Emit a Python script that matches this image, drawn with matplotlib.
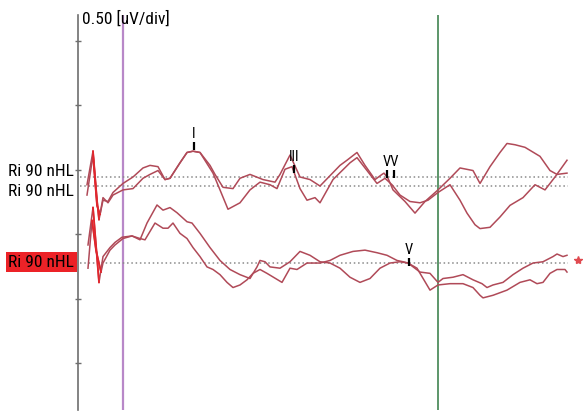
import numpy as np
import matplotlib.pyplot as plt
from matplotlib import font_manager

# narrow face for the labels, first one that is installed
installed = {f.name for f in font_manager.fontManager.ttflist}
narrow = 'Liberation Sans'
for cand in ['Roboto Condensed', 'Liberation Sans Narrow', 'DejaVu Sans Condensed', 'Open Sans Condensed']:
    if cand in installed:
        narrow = cand
        break
plt.rcParams['font.family'] = [narrow, 'DejaVu Sans']
label_size = 12.5 if narrow != 'Liberation Sans' else 10

# ABR recordings, time in ms, amplitude in uV relative to each baseline
t_up1 = [0.00, 0.12, 0.20, 0.24, 0.32, 0.42, 0.52, 0.72, 0.92, 1.12, 1.26, 1.42, 1.56, 1.66, 1.86,
         2.00, 2.12, 2.26, 2.46, 2.56, 2.72, 2.92, 3.06, 3.26, 3.52, 3.76, 3.86, 4.06, 4.26, 4.46,
         4.66, 4.86, 5.06, 5.20, 5.40, 5.56, 5.76, 5.90, 5.94, 6.02, 6.12, 6.36, 6.56, 6.76, 7.02,
         7.26, 7.46, 7.72, 7.86, 8.06, 8.26, 8.40, 8.56, 8.76, 9.06, 9.26, 9.40, 9.60]
a_up1 = [-0.06, 0.20, -0.18, -0.33, -0.18, -0.19, -0.12, -0.05, 0.00, 0.07, 0.09, 0.08, -0.02, -0.01, 0.11,
         0.19, 0.20, 0.19, 0.09, 0.02, -0.08, -0.09, -0.01, 0.02, -0.02, -0.04, 0.02, 0.17, 0.00, -0.02,
         -0.07, 0.01, 0.09, 0.13, 0.19, 0.09, -0.02, 0.02, 0.03, -0.01, -0.10, -0.19, -0.28, -0.19, -0.10,
         -0.01, 0.07, 0.05, -0.05, 0.08, 0.19, 0.26, 0.25, 0.23, 0.16, 0.05, 0.02, 0.03]

t_up2 = [0.00, 0.12, 0.20, 0.26, 0.32, 0.42, 0.52, 0.72, 0.92, 1.12, 1.26, 1.42, 1.56, 1.66, 1.86,
         2.00, 2.12, 2.26, 2.52, 2.66, 2.82, 3.06, 3.26, 3.46, 3.66, 3.80, 3.96, 4.10, 4.26, 4.40,
         4.56, 4.66, 4.92, 5.26, 5.40, 5.66, 5.80, 5.96, 6.10, 6.26, 6.46, 6.66, 6.82, 7.02, 7.26,
         7.46, 7.60, 7.76, 7.86, 8.06, 8.26, 8.46, 8.72, 8.96, 9.16, 9.36, 9.60]
a_up2 = [-0.07, 0.24, -0.15, -0.22, -0.09, -0.13, -0.07, -0.03, -0.02, 0.06, 0.09, 0.12, 0.05, 0.06, 0.18,
         0.26, 0.27, 0.26, 0.10, -0.03, -0.18, -0.13, -0.03, 0.03, 0.01, -0.02, 0.13, 0.15, -0.02, -0.11,
         -0.09, -0.13, 0.05, 0.18, 0.22, 0.09, 0.02, 0.06, 0.01, -0.07, -0.12, -0.13, -0.11, -0.05, 0.01,
         -0.11, -0.21, -0.30, -0.33, -0.32, -0.24, -0.15, -0.09, 0.01, -0.03, 0.07, 0.20]

t_lo1 = [0.02, 0.12, 0.18, 0.24, 0.32, 0.46, 0.56, 0.70, 0.90, 1.06, 1.20, 1.40, 1.52, 1.66, 1.80,
         2.00, 2.10, 2.26, 2.46, 2.66, 2.86, 3.06, 3.26, 3.40, 3.46, 3.56, 3.66, 3.86, 4.06, 4.26,
         4.46, 4.66, 4.86, 5.06, 5.26, 5.46, 5.66, 5.86, 6.06, 6.26, 6.42, 6.60, 6.86, 7.02, 7.26,
         7.52, 7.72, 7.86, 7.92, 8.12, 8.40, 8.66, 8.86, 9.00, 9.12, 9.26, 9.40, 9.56, 9.60]
a_lo1 = [0.14, 0.43, 0.14, -0.15, 0.05, 0.12, 0.16, 0.20, 0.21, 0.18, 0.31, 0.45, 0.41, 0.43, 0.39,
         0.32, 0.31, 0.23, 0.12, 0.02, -0.05, -0.09, -0.12, -0.03, 0.02, 0.01, -0.03, -0.04, 0.01, 0.09,
         0.06, 0.01, 0.00, -0.04, -0.11, -0.15, -0.12, -0.04, 0.00, 0.01, 0.00, -0.04, -0.21, -0.17, -0.16,
         -0.16, -0.19, -0.25, -0.27, -0.25, -0.21, -0.15, -0.13, -0.16, -0.15, -0.08, -0.05, -0.05, -0.07]

t_lo2 = [0.02, 0.10, 0.18, 0.28, 0.32, 0.46, 0.56, 0.72, 0.90, 1.06, 1.16, 1.36, 1.52, 1.62, 1.72,
         1.86, 2.00, 2.12, 2.26, 2.40, 2.52, 2.66, 2.80, 2.92, 3.06, 3.20, 3.32, 3.46, 3.60, 3.90,
         4.06, 4.20, 4.40, 4.66, 4.86, 5.06, 5.32, 5.56, 5.80, 6.00, 6.20, 6.32, 6.42, 6.66, 6.86,
         7.02, 7.12, 7.32, 7.52, 7.72, 7.90, 8.00, 8.12, 8.32, 8.52, 8.72, 8.92, 9.12, 9.32, 9.40,
         9.52, 9.60]
a_lo2 = [-0.04, 0.33, 0.10, -0.07, 0.00, 0.10, 0.14, 0.19, 0.21, 0.19, 0.18, 0.31, 0.27, 0.27, 0.31,
         0.23, 0.19, 0.12, 0.05, -0.03, -0.05, -0.09, -0.15, -0.19, -0.17, -0.13, -0.08, -0.05, -0.08, -0.15,
         -0.04, -0.05, 0.00, 0.00, 0.02, 0.06, 0.09, 0.10, 0.08, 0.06, 0.02, 0.01, 0.00, -0.07, -0.08,
         -0.15, -0.12, -0.11, -0.09, -0.13, -0.16, -0.19, -0.17, -0.15, -0.09, -0.04, 0.00, 0.01, 0.05, 0.07,
         0.05, 0.06]

baselines = [1.845, 1.775, 1.178]
labels = ["Ri 90 nHL", "Ri 90 nHL", "Ri 90 nHL"]
label_y = [1.884, 1.736, 1.186]

# wave markers: latency (ms), level (uV)
tick_marks = [(2.14, 2.054), (4.14, 1.876), (6.00, 1.837), (6.14, 1.837), (6.44, 1.155)]
peak_labels = [("I", 2.14, 2.054), ("III", 4.14, 1.876), ("VV", 6.07, 1.837), ("V", 6.44, 1.155)]

scale_ticks = [0.40, 0.90, 1.40, 1.90, 2.40, 2.90]
cursors = [0.72, 7.02]

trace_col = '#b04a58'
hi_col = '#e3262c'

fig = plt.figure(figsize=(5.88, 4.15), dpi=100)
ax = fig.add_axes([0, 0, 1, 1])
ax.set_xlim(-1.74, 10.02)
ax.set_ylim(0, 3.217)
ax.axis('off')

# amplitude scale bar
ax.plot([-0.18, -0.18], [0.04, 3.10], color='#6e6e6e', lw=1.2)
ax.hlines(scale_ticks, -0.24, -0.12, color='#6e6e6e', lw=1)
ax.text(-0.10, 3.075, "0.50 [uV/div]", fontsize=label_size, ha='left', va='center')

# latency cursors
ax.vlines(cursors[0], 0.04, 3.10, color='#b888c8', lw=1.6)
ax.vlines(cursors[1], 0.04, 3.10, color='#4f8d5e', lw=1.3)

# baselines
ax.hlines(baselines, -0.14, 9.62, color='#8a8a8a', lw=1.1, linestyles=[(0, (1, 1.8))])

traces = [(t_up1, a_up1, baselines[0]), (t_up2, a_up2, baselines[1]),
          (t_lo1, a_lo1, baselines[2]), (t_lo2, a_lo2, baselines[2])]
for t, a, base in traces:
    t = np.array(t)
    y = np.array(a) + base
    ax.plot(t, y, color=trace_col, lw=1.1)
    m = (t >= 0.06) & (t <= 0.30)
    ax.plot(t[m], y[m], color=hi_col, lw=1.3)

for t, level in tick_marks:
    ax.vlines(t, level, level + 0.062, color='black', lw=1.6)
for name, t, level in peak_labels:
    ax.text(t, level + 0.07, name, fontsize=10.5, ha='center', va='bottom')

ax.plot(9.82, 1.20, marker='*', color='#e04a50', ms=6, ls='none')

for i, (lab, y) in enumerate(zip(labels, label_y)):
    if i == 2:
        ax.text(-0.26, y, lab, fontsize=label_size, ha='right', va='center',
                bbox=dict(boxstyle='square,pad=0.15', fc='#ec2227', ec='none'))
    else:
        ax.text(-0.26, y, lab, fontsize=label_size, ha='right', va='center')

fig.savefig('out.png', dpi=100)
